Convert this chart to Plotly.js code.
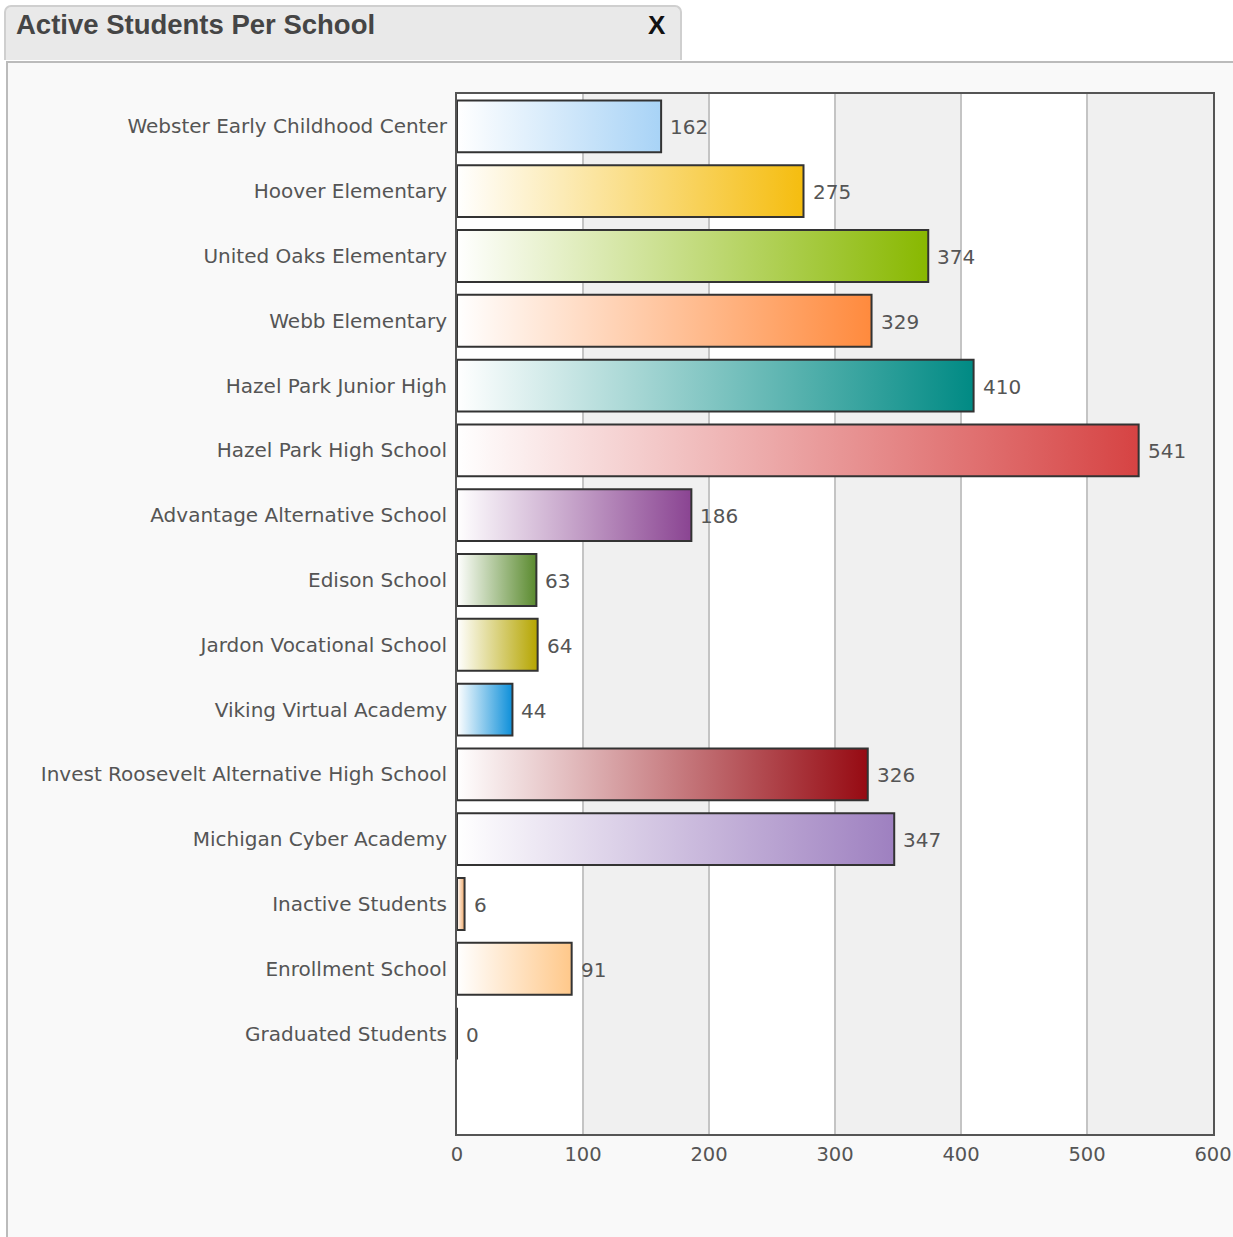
<!DOCTYPE html>
<html>
<head>
<meta charset="utf-8">
<script src="https://cdn.plot.ly/plotly-3.0.1.min.js"></script>
<style>
  html, body { margin: 0; padding: 0; background: #ffffff; width: 1233px; height: 1237px; overflow: hidden; }
  #tab { position: absolute; left: 4px; top: 5px; width: 678px; height: 55px; background: #e9e9e9;
         border: 2px solid #cfcfcf; border-bottom: none; border-radius: 7px 7px 0 0; box-sizing: border-box; }
  #tabtitle { position: absolute; left: 10px; top: 2px; font-family: "Liberation Sans", Arial, sans-serif;
              font-weight: bold; font-size: 27.5px; color: #454545; }
  #tabx { position: absolute; left: 642px; top: 3px; font-family: "Liberation Sans", Arial, sans-serif;
          font-weight: bold; font-size: 26px; color: #111; }
  #panel { position: absolute; left: 6px; top: 61px; width: 1227px; height: 1176px; background: #f9f9f9;
           border-top: 2px solid #bbbbbb; border-left: 2px solid #bbbbbb; box-sizing: border-box; }
  #chart { position: absolute; left: 0; top: 0; width: 1233px; height: 1237px; }
</style>
</head>
<body>
<div id="panel"></div>
<div id="tab"><span id="tabtitle">Active Students Per School</span><span id="tabx">X</span></div>
<div id="chart"></div>
<script>
const schools = [
  "Webster Early Childhood Center",
  "Hoover Elementary",
  "United Oaks Elementary",
  "Webb Elementary",
  "Hazel Park Junior High",
  "Hazel Park High School",
  "Advantage Alternative School",
  "Edison School",
  "Jardon Vocational School",
  "Viking Virtual Academy",
  "Invest Roosevelt Alternative High School",
  "Michigan Cyber Academy",
  "Inactive Students",
  "Enrollment School",
  "Graduated Students"
];
const students = [162, 275, 374, 329, 410, 541, 186, 63, 64, 44, 326, 347, 6, 91, 0];
const barColors = [
  "#a8d3f6", "#f5bd0f", "#88b800", "#ff8a3d", "#008a84", "#d64343", "#8a4492",
  "#5a8a2e", "#b5a500", "#0d8fd9", "#960a12", "#9e80c0", "#f0a868", "#ffc88a", "#888888"
];
const xTicks = [0, 100, 200, 300, 400, 500, 600];

const half = 0.40;
const traces = [];
schools.forEach((name, i) => {
  const v = students[i];
  const t = {
    type: "scatter",
    mode: "lines",
    x: [0, v, v, 0, 0],
    y: [i - half, i - half, i + half, i + half, i - half],
    fill: "toself",
    fillcolor: barColors[i],
    line: { color: "#333333", width: 2 },
    hoverinfo: "skip",
    showlegend: false
  };
  if (v > 0) {
    t.fillgradient = { type: "horizontal", start: 0, stop: v,
      colorscale: [[0, "#ffffff"], [1, barColors[i]]] };
  }
  traces.push(t);
});

const annotations = students.map((v, i) => ({
  x: v, y: i, xref: "x", yref: "y", text: String(v), showarrow: false,
  xanchor: "left", yanchor: "middle", xshift: 7, yshift: -1,
  font: { family: "DejaVu Sans, Verdana, sans-serif", size: 20, color: "#555555" }
}));

const shapes = [];
for (let k = 0; k < xTicks.length - 1; k++) {
  if (k % 2 === 1) {
    shapes.push({ type: "rect", xref: "x", yref: "paper", x0: xTicks[k], x1: xTicks[k + 1], y0: 0, y1: 1,
      fillcolor: "#f0f0f0", line: { width: 0 }, layer: "below" });
  }
}

const layout = {
  width: 1233, height: 1237,
  margin: { l: 457, r: 20, t: 94, b: 103 },
  paper_bgcolor: "rgba(0,0,0,0)",
  plot_bgcolor: "#ffffff",
  font: { family: "DejaVu Sans, Verdana, sans-serif", size: 20, color: "#555555" },
  xaxis: {
    range: [0, 600], tickvals: xTicks, ticktext: xTicks.map(String),
    showgrid: true, gridcolor: "#c4c4c4", gridwidth: 2,
    showline: true, linecolor: "#555555", linewidth: 2, mirror: true,
    zeroline: false, ticks: "", ticklabelstandoff: 2,
    tickfont: { size: 19.5, color: "#555555" }, fixedrange: true
  },
  yaxis: {
    range: [15.55, -0.5], tickvals: schools.map((s, i) => i), ticktext: schools,
    showgrid: false, showline: true, linecolor: "#555555", linewidth: 2, mirror: true,
    zeroline: false, ticks: "", ticklabelstandoff: 4,
    tickfont: { size: 20, color: "#555555" }, fixedrange: true
  },
  shapes: shapes,
  annotations: annotations,
  showlegend: false
};

Plotly.newPlot("chart", traces, layout, { displayModeBar: false, staticPlot: true });
</script>
</body>
</html>
